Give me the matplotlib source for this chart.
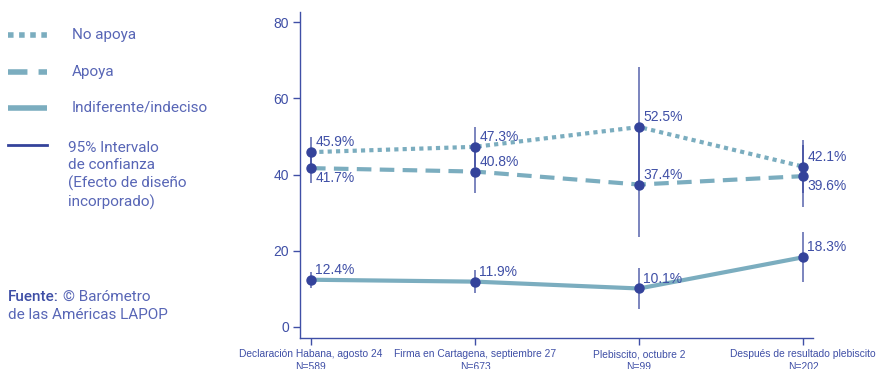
import matplotlib.pyplot as plt
from matplotlib.lines import Line2D

# Eventos medidos en la encuesta
categories = [
    "Declaración Habana, agosto 24\nN=589",
    "Firma en Cartagena, septiembre 27\nN=673",
    "Plebiscito, octubre 2\nN=99",
    "Después de resultado plebiscito\nN=202",
]
no_apoya = [45.9, 47.3, 52.5, 42.1]
no_apoya_ci = [4.0, 5.2, 15.7, 7.0]
apoya = [41.7, 40.8, 37.4, 39.6]
apoya_ci = [3.9, 5.6, 13.8, 8.1]
indiferente = [12.4, 11.9, 10.1, 18.3]
indiferente_ci = [2.1, 3.0, 5.4, 6.6]
yticks = [0, 20, 40, 60, 80]

# posición de la etiqueta respecto al punto (arriba o abajo)
no_apoya_pos = ["bottom", "bottom", "bottom", "bottom"]
apoya_pos = ["top", "bottom", "bottom", "top"]
indiferente_pos = ["bottom", "bottom", "bottom", "bottom"]

TEAL = "#7badbf"
BLUE = "#34439b"
TEXT = "#3f4fa6"
LEGEND_TEXT = "#5866b6"

fig = plt.figure(figsize=(8.77, 3.69), dpi=100)
ax = fig.add_axes([300 / 877, 1 - 338 / 369, 513 / 877, 326 / 369])

x = list(range(len(categories)))
series = [
    (no_apoya, no_apoya_ci, (0, (1, 1)), no_apoya_pos),
    (apoya, apoya_ci, (0, (3.5, 2)), apoya_pos),
    (indiferente, indiferente_ci, "-", indiferente_pos),
]

for vals, ci, ls, _ in series:
    ax.plot(x, vals, color=TEAL, lw=3, linestyle=ls, zorder=2, solid_capstyle="butt")
for vals, ci, _, _ in series:
    for xi, v, c in zip(x, vals, ci):
        ax.vlines(xi, v - c, v + c, color=BLUE, alpha=0.65, lw=1.4, zorder=3)
for vals, ci, _, positions in series:
    ax.plot(x, vals, "o", color=BLUE, ms=6.5, zorder=4)
    for xi, v, va in zip(x, vals, positions):
        dy = 2 if va == "bottom" else -2
        ax.annotate(f"{v}%", (xi, v), xytext=(3, dy), textcoords="offset points",
                    ha="left", va=va, fontsize=10, color=TEXT,
                    family="Liberation Sans", zorder=5)

ax.set_xlim(-0.067, 3.06)
ax.set_ylim(-2.9, 82.7)
ax.set_yticks(yticks)
ax.set_xticks(x, categories)
for s in ["top", "right"]:
    ax.spines[s].set_visible(False)
for s in ["left", "bottom"]:
    ax.spines[s].set_color(TEXT)
    ax.spines[s].set_linewidth(1)
ax.tick_params(axis="y", colors=TEXT, labelsize=10, length=5, width=1, pad=3)
ax.tick_params(axis="x", colors=TEXT, labelsize=7.4, length=5, width=1, pad=3)
for lbl in ax.get_xticklabels() + ax.get_yticklabels():
    lbl.set_family("Liberation Sans")
    lbl.set_color(TEXT)
for lbl in ax.get_xticklabels():
    lbl.set_linespacing(1.4)

# Leyenda manual a la izquierda, en coordenadas de píxel
leg = fig.add_axes([0, 0, 1, 1], zorder=-1)
leg.set_xlim(0, 877)
leg.set_ylim(369, 0)
leg.axis("off")
legend_items = [
    (35, (0, (1, 1)), "No apoya"),
    (72, (0, (3.5, 2)), "Apoya"),
    (108, "-", "Indiferente/indeciso"),
]
for y, ls, label in legend_items:
    leg.add_line(Line2D([8, 47], [y, y], color=TEAL, lw=4, linestyle=ls, solid_capstyle="butt"))
    leg.text(72, y, label, fontsize=11, color=LEGEND_TEXT, family="Roboto", va="center")
leg.add_line(Line2D([8, 47], [145, 145], color=BLUE, lw=2))
leg.text(68, 141, "95% Intervalo\nde confianza\n(Efecto de diseño\nincorporado)",
         fontsize=11, color=LEGEND_TEXT, family="Roboto", va="top", linespacing=1.3)
fuente = leg.text(8, 297, "Fuente:", fontsize=11, color=TEXT, family="Roboto",
                  fontweight="medium", va="center")
leg.annotate("© Barómetro", xy=(1, 0.5), xycoords=fuente, xytext=(3, 0),
             textcoords="offset points", fontsize=11, color=LEGEND_TEXT,
             family="Roboto", va="center")
leg.text(8, 315, "de las Américas LAPOP", fontsize=11, color=LEGEND_TEXT,
         family="Roboto", va="center")

fig.savefig("out.png", dpi=100)
